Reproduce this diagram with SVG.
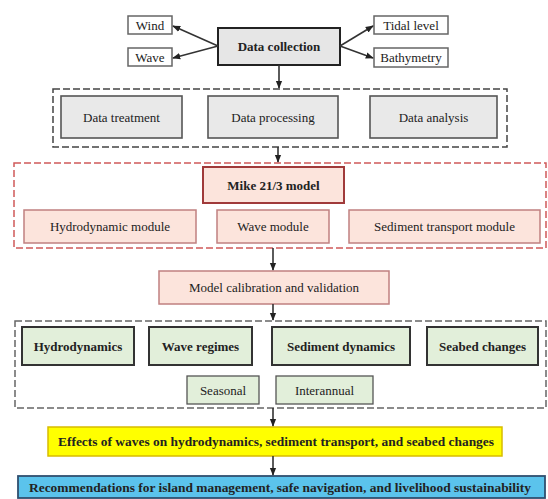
<svg xmlns="http://www.w3.org/2000/svg" width="548" height="499" viewBox="0 0 548 499">
<defs>
<marker id="ah" viewBox="0 0 10 10" refX="9" refY="5" markerWidth="5" markerHeight="5" orient="auto-start-reverse">
<path d="M0,1 L10,5 L0,9 z" fill="#222"/>
</marker>
<style>
text{font-family:"Liberation Serif","Times New Roman",serif;font-size:13px;fill:#222;text-anchor:middle;dominant-baseline:central}
.b{font-weight:bold}
.small{fill:#fff;stroke:#666;stroke-width:1.5}
.dc{fill:#e6e6e6;stroke:#222;stroke-width:2}
.gray{fill:#e9e9e9;stroke:#555;stroke-width:1.6}
.pink{fill:#fce4dc;stroke:#c08080;stroke-width:1.5}
.mike{fill:#fce4dc;stroke:#a03a3a;stroke-width:2}
.green{fill:#e2efda;stroke:#333;stroke-width:2}
.green2{fill:#e2efda;stroke:#555;stroke-width:1.3}
.dashg{fill:none;stroke:#444;stroke-width:1.5;stroke-dasharray:7,3}
.dashr{fill:none;stroke:#d05a5a;stroke-width:1.5;stroke-dasharray:7,3}
.dashk{fill:none;stroke:#666;stroke-width:1.5;stroke-dasharray:7,3}
.conn line{stroke:#333;stroke-width:1.6;marker-end:url(#ah)}
</style>
</defs>
<rect width="548" height="499" fill="#fff"/>

<g id="group-data" ><rect class="dashg" x="53" y="89" width="454" height="58"/></g>
<g id="group-model"><rect class="dashr" x="14" y="163" width="532" height="85"/></g>
<g id="group-results"><rect class="dashk" x="15" y="321" width="531" height="87"/></g>

<g id="wind"><rect class="small" x="128" y="16" width="44" height="18"/><text x="150" y="25">Wind</text></g>
<g id="wave"><rect class="small" x="128" y="48" width="44" height="18"/><text x="150" y="57">Wave</text></g>
<g id="tidal"><rect class="small" x="374" y="16" width="74" height="18"/><text x="411" y="25">Tidal level</text></g>
<g id="bathy"><rect class="small" x="374" y="48" width="74" height="19"/><text x="411" y="57.5">Bathymetry</text></g>
<g id="datacollection"><rect class="dc" x="218" y="28" width="122" height="37"/><text class="b" x="279" y="46.5">Data collection</text></g>

<g id="treatment"><rect class="gray" x="61" y="96" width="121" height="42"/><text x="121.5" y="117">Data treatment</text></g>
<g id="processing"><rect class="gray" x="208" y="96" width="130" height="42"/><text x="273" y="117">Data processing</text></g>
<g id="analysis"><rect class="gray" x="370" y="96" width="127" height="42"/><text x="433.5" y="117">Data analysis</text></g>

<g id="mike"><rect class="mike" x="203" y="167" width="141" height="36"/><text class="b" x="273.5" y="185">Mike 21/3 model</text></g>
<g id="hydromod"><rect class="pink" x="24" y="210" width="172" height="33"/><text x="110" y="226.5">Hydrodynamic module</text></g>
<g id="wavemod"><rect class="pink" x="217" y="210" width="112" height="33"/><text x="273" y="226.5">Wave module</text></g>
<g id="sedmod"><rect class="pink" x="349" y="210" width="191" height="33"/><text x="444.5" y="226.5">Sediment transport module</text></g>

<g id="calib"><rect class="pink" x="159" y="271" width="230" height="33"/><text x="274" y="287.5">Model calibration and validation</text></g>

<g id="hydro"><rect class="green" x="22" y="327" width="112" height="38"/><text class="b" x="78" y="346">Hydrodynamics</text></g>
<g id="waveregimes"><rect class="green" x="149" y="327" width="103" height="38"/><text class="b" x="200.5" y="346">Wave regimes</text></g>
<g id="seddyn"><rect class="green" x="272" y="327" width="138" height="38"/><text class="b" x="341" y="346">Sediment dynamics</text></g>
<g id="seabed"><rect class="green" x="427" y="327" width="111" height="38"/><text class="b" x="482.5" y="346">Seabed changes</text></g>
<g id="seasonal"><rect class="green2" x="187" y="376" width="72" height="28"/><text x="223" y="390">Seasonal</text></g>
<g id="interannual"><rect class="green2" x="276" y="376" width="97" height="28"/><text x="324.5" y="390">Interannual</text></g>

<g id="effects"><rect x="48" y="427" width="454" height="29" fill="#ffff00" stroke="#d8bc00" stroke-width="1.5"/><text class="b" x="276" y="441.5" textLength="436" lengthAdjust="spacingAndGlyphs">Effects of waves on hydrodynamics, sediment transport, and seabed changes</text></g>
<g id="recommend"><rect x="18" y="476" width="527" height="22" fill="#5bc3ec" stroke="#2f4f6f" stroke-width="1.8"/><text class="b" x="280" y="487.5" textLength="502" lengthAdjust="spacingAndGlyphs">Recommendations for island management, safe navigation, and livelihood sustainability</text></g>

<g id="connectors" class="conn">
<line x1="218" y1="46" x2="173" y2="26"/>
<line x1="218" y1="46" x2="173" y2="58"/>
<line x1="340" y1="46" x2="373" y2="26"/>
<line x1="340" y1="46" x2="373" y2="58"/>
<line x1="279" y1="65" x2="279" y2="88"/>
<line x1="278" y1="147" x2="278" y2="162"/>
<line x1="273" y1="248" x2="273" y2="270"/>
<line x1="273" y1="304" x2="273" y2="320"/>
<line x1="273" y1="408" x2="273" y2="426"/>
<line x1="273" y1="456" x2="273" y2="475"/>
</g>
</svg>
